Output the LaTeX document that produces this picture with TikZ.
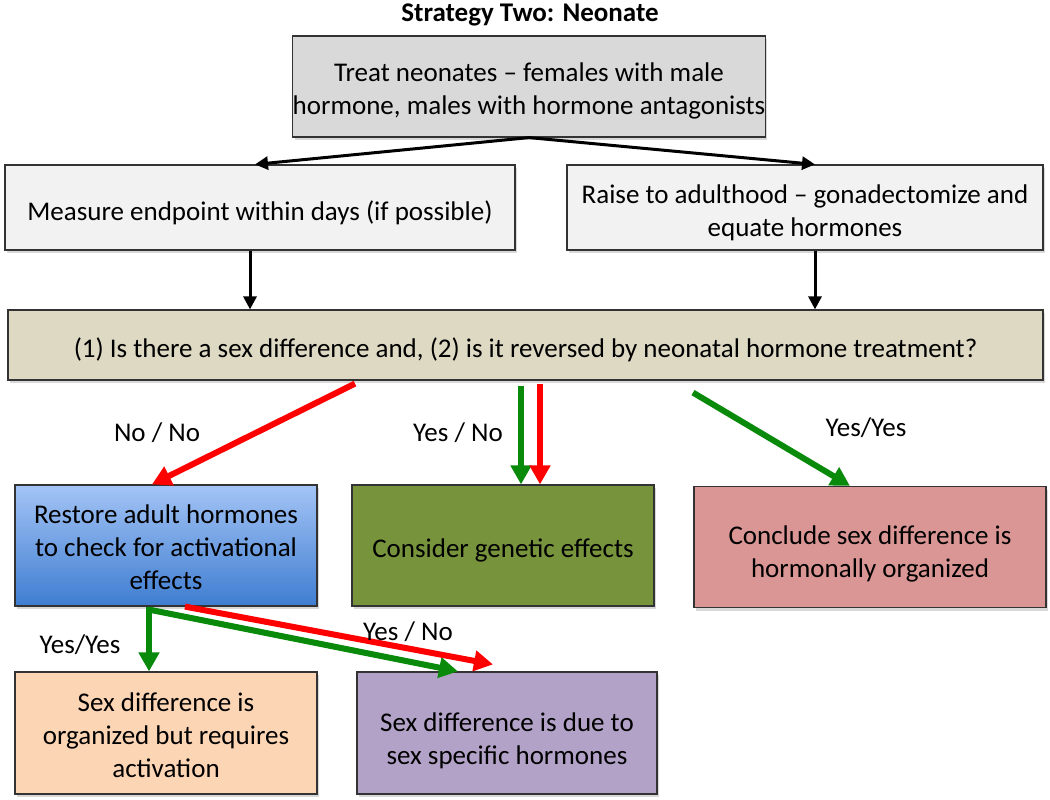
\documentclass[tikz,border=0pt]{standalone}
\usepackage{fontspec}
\setmainfont{Carlito}
\usetikzlibrary{arrows.meta,shadows,calc}
\definecolor{topgray}{HTML}{D9D9D9}
\definecolor{lightgray}{HTML}{F2F2F2}
\definecolor{tan}{HTML}{DDD9C3}
\definecolor{boxgreen}{HTML}{77933C}
\definecolor{boxpink}{HTML}{D99694}
\definecolor{boxorange}{HTML}{FCD5B5}
\definecolor{boxpurple}{HTML}{B3A2C7}
\definecolor{bluetop}{HTML}{A3C4F5}
\definecolor{bluebot}{HTML}{3F7DD1}
\definecolor{arrred}{HTML}{FF0000}
\definecolor{arrgreen}{HTML}{0A8A0A}
\newcommand\boxtext[2]{\raisebox{-#1}[\height][\depth]{\begin{tabular}{@{}c@{}}#2\end{tabular}}}
\begin{document}
\begin{tikzpicture}[x=1pt,y=-1pt,
  every node/.style={font=\fontsize{27}{33}\selectfont},
  box/.style={draw=black!80, line width=1.2pt, rectangle, align=center, inner sep=0pt,
    drop shadow={shadow xshift=2pt, shadow yshift=-3pt, opacity=0.3}},
  blk/.style={draw=black, line width=3pt, -{Triangle[length=13pt,width=13pt]}},
  redarr/.style={draw=arrred, line width=6pt, -{Triangle[length=19pt,width=20pt]}},
  grnarr/.style={draw=arrgreen, line width=6pt, -{Triangle[length=19pt,width=20pt]}},
  lbl/.style={inner sep=0pt}
]
\useasboundingbox (0,0) rectangle (1050,800);
\fill[white] (0,0) rectangle (1050,800);

\node[lbl, font=\fontsize{27}{33}\selectfont\bfseries] (title) at (530,15) {Strategy Two: Neonate};

\node[box, fill=topgray, minimum width=472pt, minimum height=101pt] (top) at (529,86.5)
  {\boxtext{5pt}{Treat neonates -- females with male\\hormone, males with hormone antagonists}};
\node[box, fill=lightgray, minimum width=510pt, minimum height=85pt] (left) at (260,207.5)
  {\boxtext{6pt}{Measure endpoint within days (if possible)}};
\node[box, fill=lightgray, minimum width=476pt, minimum height=85pt] (right) at (805,207.5)
  {\boxtext{6pt}{Raise to adulthood -- gonadectomize and\\equate hormones}};
\node[box, fill=tan, minimum width=1035pt, minimum height=70pt] (bar) at (525.5,345)
  {\boxtext{6pt}{(1) Is there a sex difference and, (2) is it reversed by neonatal hormone treatment?}};

\node[box, top color=bluetop, bottom color=bluebot, minimum width=302pt, minimum height=121pt] (blue) at (166,545.5)
  {\boxtext{4pt}{Restore adult hormones\\to check for activational\\effects}};
\node[box, fill=boxgreen, minimum width=302pt, minimum height=121pt] (green) at (503,545.5)
  {\boxtext{5pt}{Consider genetic effects}};
\node[box, fill=boxpink, minimum width=352pt, minimum height=121pt] (pink) at (870,547)
  {\boxtext{7pt}{Conclude sex difference is\\hormonally organized}};
\node[box, fill=boxorange, minimum width=302pt, minimum height=122pt] (orange) at (166,733)
  {\boxtext{5pt}{Sex difference is\\organized but requires\\activation}};
\node[box, fill=boxpurple, minimum width=300pt, minimum height=122pt] (purple) at (507,733)
  {\boxtext{8pt}{Sex difference is due to\\sex specific hormones}};

% black connectors
\draw[blk] (top.south) -- (left.north -| 255,0);
\draw[blk] (top.south) -- (right.north -| 815,0);
\draw[blk] (left.south -| 250,0) -- (bar.north -| 250,0);
\draw[blk] (right.south -| 815,0) -- (bar.north -| 815,0);

% coloured connectors from the question bar
\draw[redarr] ($(bar.south -| 355,0)+(0,3)$) -- (blue.north -| 152,0);
\draw[grnarr] ($(bar.south -| 521,0)+(0,5)$) -- (green.north -| 521,0);
\draw[redarr] ($(bar.south -| 540,0)+(0,3)$) -- (green.north -| 540,0);
\draw[grnarr] ($(bar.south -| 693,0)+(0,12)$) -- (pink.north -| 850,0);

% connectors from the blue box
\draw[grnarr] (blue.south -| 149,0) -- (orange.north -| 149,0);
\draw[grnarr] ($(blue.south -| 149,0)+(0,3)$) -- (purple.north -| 458,0);
\draw[redarr] (blue.south -| 185,0) -- ($(purple.north -| 493,0)+(0,-7)$);

% labels
\node[lbl] (l1) at (157,433) {No / No};
\node[lbl] (l2) at (458,433) {Yes / No};
\node[lbl] (l3) at (866,428) {Yes/Yes};
\node[lbl] (l4) at (80,645) {Yes/Yes};
\node[lbl] (l5) at (408,632) {Yes / No};
\end{tikzpicture}
\end{document}
